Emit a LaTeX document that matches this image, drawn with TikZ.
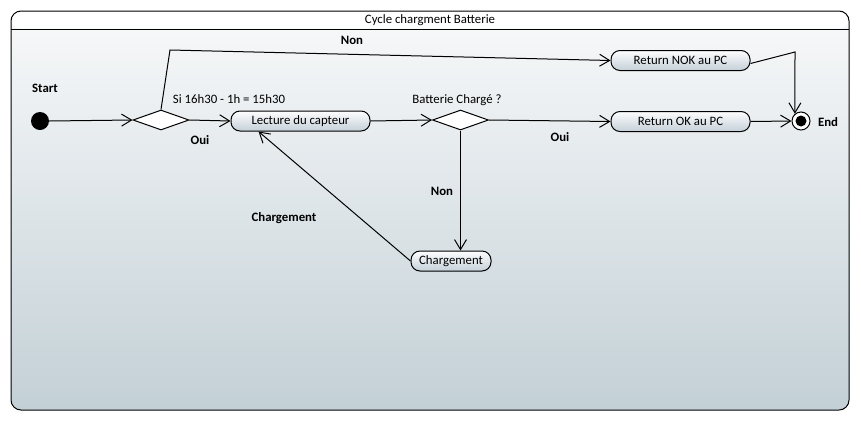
\documentclass[tikz,border=0pt]{standalone}
\usepackage{fontspec}
\setmainfont{Carlito}
\usetikzlibrary{shapes.geometric,arrows.meta,calc}
\definecolor{bgtop}{HTML}{F8F9FA}
\definecolor{bgbot}{HTML}{C3D0D6}
\definecolor{ndtop}{HTML}{FDFDFE}
\definecolor{ndbot}{HTML}{C4D0D8}
\begin{document}
\begin{tikzpicture}[x=1pt,y=-1pt,
  font=\fontsize{12.8}{14}\selectfont,
  act/.style={draw=black, line width=1pt, rounded corners=9pt, top color=ndtop, bottom color=ndbot,
    minimum height=20pt, inner sep=2pt},
  dec/.style={draw=black, line width=1pt, fill=white, diamond, minimum width=56pt, minimum height=20pt, inner sep=0pt},
  flow/.style={draw=black, line width=1pt, -{Straight Barb[length=10pt,width=12pt,line width=1pt]}},
  lbl/.style={font=\fontsize{12.8}{14}\selectfont\bfseries, inner sep=0pt}
]
\useasboundingbox (0,0) rectangle (861,421);
\fill[white] (0,0) rectangle (861,421);
% frame
\shade[top color=bgtop, bottom color=bgbot, rounded corners=10pt] (11,11) rectangle (849,410);
\fill[white!97!bgtop] ([shift={(0.5,-0.5)}]11,12) [rounded corners=9pt] -- (11.5,28.5) -- (848.5,28.5) -- (848.5,11.5) -- cycle;
\draw[line width=1pt, rounded corners=10pt] (11,11) rectangle (849,410);
\draw[line width=1pt] (11,29) -- (849,29);
\node[inner sep=0pt] (title) at (430,20) {Cycle chargment Batterie};

% nodes
\node[circle, fill=black, minimum size=18pt, inner sep=0pt] (start) at (40,121) {};
\node[lbl] (startlbl) at (45,88) {Start};
\node[dec] (d1) at (161,120) {};
\node[act, minimum width=139pt] (lect) at (300.5,121) {Lecture du capteur};
\node[dec] (d2) at (460.5,120) {};
\node[act, minimum width=139pt] (ok) at (680.5,121.5) {Return OK au PC};
\node[act, minimum width=139pt] (nok) at (680.5,60.5) {Return NOK au PC};
\node[act, minimum width=80pt] (charg) at (451,261) {Chargement};
\node[circle, draw=black, line width=1pt, fill=white, minimum size=18pt, inner sep=0pt] (end) at (801,121) {};
\fill[black] (end.center) circle (5.5pt);
\node[lbl] (endlbl) at (828,122) {End};

% labels
\node[inner sep=0pt] (l1) at (229,99) {Si 16h30 - 1h = 15h30};
\node[inner sep=0pt] (l2) at (457,100) {Batterie Chargé ?};
\node[lbl] (non1) at (352,40) {Non};
\node[lbl] (oui1) at (200,140) {Oui};
\node[lbl] (oui2) at (560,137) {Oui};
\node[lbl] (non2) at (442,191) {Non};
\node[lbl] (chl) at (284,218) {Chargement};

% bend coordinates
\coordinate (b1) at (170,50);
\coordinate (b2) at (795,52);

% connectors
\draw[flow] (start.east) -- (d1.west);
\draw[flow] (d1.east) -- (lect.west);
\draw[flow] (d1.north) -- (b1) -- (nok.west);
\draw[flow] (lect.east) -- (d2.west);
\draw[flow] (d2.east) -- (ok.west);
\draw[flow] (d2.south) -- (charg.north -| d2.south);
\draw[flow] (charg.west) -- ([xshift=-42pt]lect.south);
\draw[flow] (ok.east) -- (end.west);
\draw[flow] ([yshift=-3pt]nok.east) -- (b2) -- (end.130);
\end{tikzpicture}
\end{document}
